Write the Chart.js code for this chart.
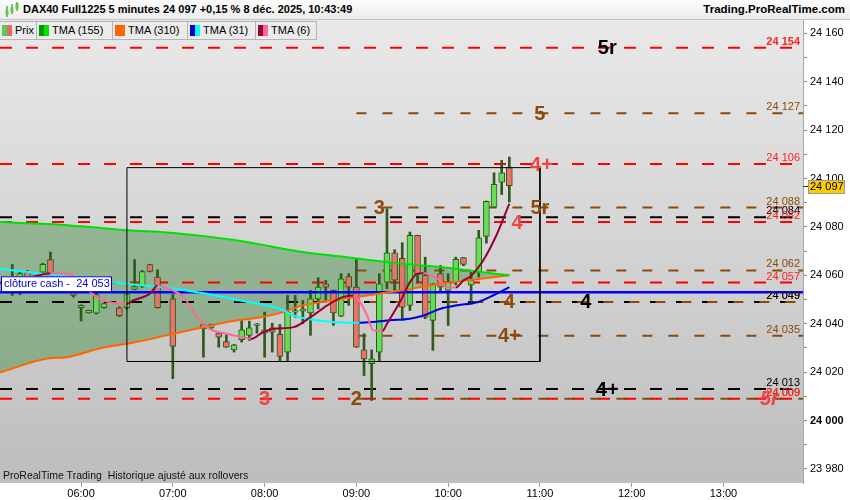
<!DOCTYPE html>
<html lang="fr">
<head>
<meta charset="utf-8">
<title>DAX40 Full1225 5 minutes</title>
<script src="https://cdn.jsdelivr.net/npm/chart.js@4.4.1/dist/chart.umd.min.js"></script>
<style>
  html, body { margin: 0; padding: 0; background: #fff; }
  #wrap { position: relative; width: 850px; height: 500px; overflow: hidden; font-family: "Liberation Sans", Arial, sans-serif; }
  #chart { position: absolute; left: 0; top: 0; }
  #head { position: absolute; left: 0; top: 0; width: 850px; height: 20px; box-sizing: border-box;
          background: linear-gradient(#fcfcfc, #ececec); border-bottom: 1px solid #c4c4c4; }
  #head .title { position: absolute; left: 23px; top: 3px; font-size: 11px; font-weight: bold; white-space: nowrap; }
  #head .site { position: absolute; right: 5px; top: 3px; font-size: 11.5px; font-weight: bold; }
  #head svg { position: absolute; left: 4px; top: 2px; }
  .tab { position: absolute; top: 21px; height: 19px; box-sizing: border-box; background: #ebebeb;
         border: 1px solid #b4b4b4; border-left: none; font-size: 11px; line-height: 17px; white-space: nowrap; }
  .tab i { position: absolute; top: 3px; width: 5px; height: 11px; }
  .tab span { position: absolute; left: 15px; top: 0; }
  #foot { position: absolute; left: 3px; top: 469px; font-size: 10.5px; color: #111; white-space: pre; }
</style>
</head>
<body>
<div id="wrap">
  <canvas id="chart" width="850" height="500"></canvas>
  <div id="head">
    <svg width="16" height="16" viewBox="0 0 16 16">
      <line x1="3" y1="4" x2="3" y2="15" stroke="#2e6b1e"/><rect x="1.5" y="8" width="3" height="5" fill="#5ccc44"/>
      <line x1="8" y1="2" x2="8" y2="12" stroke="#2e6b1e"/><rect x="6.5" y="5" width="3" height="5" fill="#5ccc44"/>
      <line x1="13" y1="0" x2="13" y2="9" stroke="#2e6b1e"/><rect x="11.5" y="1" width="3" height="6" fill="#5ccc44"/>
    </svg>
    <div class="title">DAX40 Full1225 5 minutes 24 097 +0,15 % 8 déc. 2025, 10:43:49</div>
    <div class="site">Trading.ProRealTime.com</div>
  </div>
  <div id="tabs"></div>
  <div id="foot">ProRealTime Trading  Historique ajusté aux rollovers</div>
</div>
<script>
// 5 minute bars, time = minutes since midnight
const barTime  = [315, 320, 325, 335, 340, 355, 360, 365, 370, 375, 385, 390, 395, 400, 405, 410, 420,
                  440, 445, 450, 455, 460, 465, 470, 475, 480, 485, 490, 495, 500, 505, 510, 515, 520,
                  525, 530, 535, 540, 545, 550, 555, 560, 565, 570, 575, 580, 585, 590, 595, 600, 605,
                  610, 615, 620, 625, 630, 635, 640];
const barOpen  = [24056, 24054, 24061.2, 24061.3, 24066.5, 24055, 24046.6, 24044.5, 24044.4, 24046.6, 24046.6, 24046.6, 24054.2, 24055.4, 24064.4, 24059.3, 24050.3,
                  24037.9, 24038.3, 24036.1, 24032.6, 24029.2, 24033.4, 24035.2, 24039.3, 24037.5, 24038.3, 24035.6, 24028.3, 24044.8, 24045.2, 24044.5, 24050.3, 24056.5,
                  24053.8, 24043.1, 24059.5, 24055.1, 24029.2, 24023.5, 24028.3, 24057.2, 24069.3, 24067, 24047.6, 24076.5, 24060, 24041.4, 24060.7, 24053.8, 24057.2,
                  24067.3, 24056, 24061.3, 24076.1, 24088.2, 24098.5, 24104.5];
const barHigh  = [24064.5, 24062, 24062, 24065, 24069.6, 24057, 24047.8, 24045.6, 24054, 24048.6, 24047, 24053, 24066.5, 24062, 24064.6, 24062.3, 24052.1,
                  24039.9, 24039.8, 24036.3, 24035.4, 24031.5, 24041.4, 24041.1, 24040.1, 24044.8, 24040.2, 24039.7, 24051.7, 24051.7, 24049.6, 24053.8, 24059, 24057.9,
                  24053.9, 24060.7, 24060.7, 24066.9, 24035.9, 24029.2, 24060.7, 24087.5, 24070.6, 24073.5, 24077.9, 24076.6, 24067.5, 24056.6, 24064.1, 24060.7, 24067.5,
                  24067.4, 24061.3, 24078.6, 24090.7, 24102.4, 24107.5, 24108.9];
const barLow   = [24051.7, 24052, 24053, 24061, 24055, 24051, 24041.1, 24044.4, 24044, 24046.4, 24043, 24046, 24054, 24055, 24061.4, 24046.5, 24017.3,
                  24026.2, 24038, 24030.3, 24030.2, 24028.3, 24032.4, 24033.1, 24036.1, 24026.2, 24028.3, 24024.5, 24024.5, 24042.7, 24040, 24035.2, 24046.2, 24048.9,
                  24039.3, 24042.9, 24047.6, 24030.2, 24018.6, 24008.3, 24024.5, 24054.5, 24053.8, 24042.1, 24045.5, 24057.2, 24042.1, 24029, 24053.1, 24039.3, 24056,
                  24064, 24048.9, 24059.3, 24073.3, 24088, 24093.4, 24090.3];
const barClose = [24058, 24060.7, 24055, 24064.5, 24056.8, 24051.7, 24047.6, 24045.5, 24052, 24048.3, 24043.3, 24052.4, 24055.4, 24061.6, 24061.6, 24046.6, 24030.6,
                  24039.7, 24039.7, 24034.5, 24030.3, 24031.3, 24037.5, 24038.3, 24040, 24036.1, 24036.5, 24026.5, 24044.8, 24045.4, 24046.2, 24050.3, 24055.1, 24055.1,
                  24044.5, 24058.6, 24055.1, 24030.3, 24025.5, 24025.5, 24056.5, 24069.3, 24058, 24046.9, 24076.5, 24060.7, 24042.7, 24056.5, 24055.1, 24057.2, 24066.6,
                  24064.5, 24058, 24075.5, 24090.6, 24097.6, 24102.4, 24097];

// moving averages
const slowTime = [307, 338, 351, 374, 390, 416, 442, 459, 477, 490, 505, 540, 568, 595, 616, 640];
const tma155   = [24082.0, 24081.2, 24080.7, 24079.5, 24078.6, 24077.7, 24076.1, 24074.7, 24072.8, 24071.2, 24069.6, 24067.0, 24064.9, 24063.4, 24061.8, 24060.0];
const tma310   = [24019.9, 24025.6, 24026.2, 24030.1, 24031.7, 24035.2, 24038.9, 24041.1, 24042.7, 24044.4, 24047.6, 24051.0, 24053.6, 24056.5, 24058.2, 24060.0];
const tma31Time = [307, 335, 390, 416, 442, 464, 490, 499, 521, 542, 551, 562, 575, 584, 595, 606, 619, 627, 640];
const tma31     = [24062.7, 24060.7, 24056.5, 24054.9, 24052.4, 24049.6, 24046.2, 24043.4, 24040.9, 24040.4, 24040.7, 24041.4, 24042.1, 24043.4, 24046.2, 24047.6, 24048.9, 24051.0, 24055.1];
const tma6Time = [307, 329, 340, 351, 370, 379, 390, 394, 405, 410, 414, 427, 436, 444, 455, 469, 471, 479, 486, 499, 510,
                  521, 531, 538, 547, 551, 557, 560, 569, 575, 580, 584, 593, 599, 605, 610, 614, 619, 623, 632, 640];
const tma6     = [24056.7, 24059.5, 24060.9, 24060.8, 24051.0, 24048.9, 24048.3, 24049.6, 24052.4, 24055.8, 24055.1, 24051.0, 24042.7, 24037.9, 24035.9, 24034.0, 24033.7, 24036.5, 24037.9, 24038.6, 24042.7,
                  24047.6, 24051.0, 24051.7, 24043.4, 24037.2, 24037.0, 24040.0, 24049.6, 24057.2, 24060.7, 24060.9, 24058.6, 24055.1, 24055.0, 24057.9, 24059.3, 24062.7, 24066.2, 24077.2, 24089.6];

// horizontal levels
const levelPrice = [24127, 24088, 24062, 24049, 24035, 24009, 24154, 24106, 24084, 24082, 24057, 24049, 24013, 24009];
const levelKind  = ['brown', 'brown', 'brown', 'brown', 'brown', 'brown', 'red', 'red', 'black', 'red', 'red', 'black', 'black', 'red'];
const cashClose = 24053;
const rangeTime  = [390, 660];
const rangePrice = [24024.4, 24104.5];

// level tags
const tagText  = ['5r', '5', '4+', '3', '5r', '4', '4', '4', '4+', '4+', '3', '2', '5r'];
const tagTime  = [704, 660, 661, 555, 660, 645, 640, 690, 640, 704, 480, 540, 810];
const tagPrice = [24154, 24127, 24106, 24088, 24088, 24082, 24049, 24049, 24035, 24013, 24009, 24009, 24009];
const tagKind  = ['black', 'brown', 'red', 'brown', 'brown', 'red', 'brown', 'black', 'brown', 'black', 'red', 'brown', 'red'];

const hourTicks = [360, 420, 480, 540, 600, 660, 720, 780];
const priceTicks = [];
for (let v = 23980; v <= 24160; v += 10) priceTicks.push(v);
const lastPrice = 24097;

const FONT = '"Liberation Sans", Arial, sans-serif';
const lineColor = { red: '#ff0000', brown: '#8b4a0c', black: '#000000' };
const textColor = { red: '#ff2222', brown: '#8b4a0c', black: '#000000' };
const tagColor  = { red: '#ee4444', brown: '#8b4a0c', black: '#000000' };

// legend tabs
const tabs = [
  [0, 37, '#55cc55', '#e06a6a', 'Prix'],
  [37, 76, '#009a00', '#00e600', 'TMA (155)'],
  [113, 75, '#ff6600', '#ff6600', 'TMA (310)'],
  [188, 68, '#0000c8', '#00ffff', 'TMA (31)'],
  [256, 61, '#990033', '#ff6699', 'TMA (6)']
];
const tabBox = document.getElementById('tabs');
tabs.forEach(([left, w, c1, c2, label]) => {
  const d = document.createElement('div');
  d.className = 'tab';
  d.style.left = left + 'px';
  d.style.width = w + 'px';
  d.innerHTML = '<i style="left:2px;background:' + c1 + '"></i><i style="left:7px;background:' + c2 + '"></i><span>' + label + '</span>';
  tabBox.appendChild(d);
});

function fmt(v) {
  const s = String(Math.round(v));
  return s.slice(0, s.length - 3) + ' ' + s.slice(-3);
}
function hhmm(v) {
  const h = Math.floor(v / 60), m = v % 60;
  return String(h).padStart(2, '0') + ':' + String(m).padStart(2, '0');
}
function pts(xs, ys) {
  return xs.map((t, i) => ({ x: t, y: ys[i] }));
}

const upDown = (rise, fall) => c => (c.p1.parsed.y >= c.p0.parsed.y ? rise : fall);

const datasets = [
  { type: 'line', data: pts(slowTime, tma155), borderColor: '#00e000', borderWidth: 2, pointRadius: 0,
    cubicInterpolationMode: 'monotone', fill: { target: 1 }, backgroundColor: 'rgba(0,110,0,0.30)', order: 3 },
  { type: 'line', data: pts(slowTime, tma310), borderColor: '#ff6600', borderWidth: 2, pointRadius: 0,
    cubicInterpolationMode: 'monotone', fill: false, order: 4 },
  { type: 'line', data: pts(tma31Time, tma31), borderColor: '#00ffff', borderWidth: 2, pointRadius: 0,
    cubicInterpolationMode: 'monotone', fill: false, segment: { borderColor: upDown('#0000dd', '#00ffff') }, order: 2 },
  { type: 'line', data: pts(tma6Time, tma6), borderColor: '#ff6699', borderWidth: 2, pointRadius: 0,
    cubicInterpolationMode: 'monotone', fill: false, segment: { borderColor: upDown('#990033', '#ff6699') }, order: 1 },
  { type: 'line', data: [
      { x: rangeTime[0], y: rangePrice[1] }, { x: rangeTime[1], y: rangePrice[1] },
      { x: rangeTime[1], y: rangePrice[0] }, { x: rangeTime[0], y: rangePrice[0] },
      { x: rangeTime[0], y: rangePrice[1] }],
    borderColor: '#000', borderWidth: 1, pointRadius: 0, tension: 0, fill: false, order: 0 },
  { type: 'line', data: [{ x: 307, y: cashClose }, { x: 832, y: cashClose }], borderColor: '#0000ff',
    borderWidth: 2.5, pointRadius: 0, fill: false, order: 5 },
  { type: 'bar', data: barTime.map((t, i) => ({ x: t, y: [barOpen[i], barClose[i]] })),
    backgroundColor: barTime.map((t, i) => (barClose[i] >= barOpen[i] ? '#66dd55' : '#e8736a')),
    borderColor: '#2e5a1c', borderWidth: 1, borderSkipped: false, barThickness: 6, grouped: false, order: 6 },
  { type: 'bar', data: barTime.map((t, i) => ({ x: t, y: [barLow[i], barHigh[i]] })),
    backgroundColor: '#2e5a1c', borderWidth: 0, barThickness: 2, grouped: false, order: 7 }
];
levelPrice.forEach((p, i) => {
  const k = levelKind[i];
  datasets.push({
    type: 'line',
    data: [{ x: k === 'brown' ? 540 : 307, y: p }, { x: 832, y: p }],
    borderColor: lineColor[k], borderWidth: 2,
    borderDash: k === 'brown' ? [10, 16] : [12, 14],
    borderDashOffset: k === 'brown' && p === 24049 ? 13 : 0,
    pointRadius: 0, fill: false, order: 8
  });
});

const background = {
  id: 'background',
  beforeDraw(chart) {
    const { ctx, chartArea: a } = chart;
    ctx.save();
    ctx.fillStyle = '#ffffff';
    ctx.fillRect(0, 0, chart.width, chart.height);
    const g = ctx.createLinearGradient(0, a.top, 0, a.bottom);
    g.addColorStop(0, '#e9e9e9');
    g.addColorStop(1, '#bdbdbd');
    ctx.fillStyle = g;
    ctx.fillRect(a.left, a.top, a.right - a.left, a.bottom - a.top);
    ctx.restore();
  }
};

const annotations = {
  id: 'annotations',
  afterDatasetsDraw(chart) {
    const { ctx, scales: { x, y }, chartArea: a } = chart;
    ctx.save();
    ctx.beginPath();
    ctx.rect(a.left, a.top, a.right - a.left, a.bottom - a.top);
    ctx.clip();

    // level values at the right edge
    ctx.textAlign = 'right';
    ctx.textBaseline = 'alphabetic';
    levelPrice.forEach((p, i) => {
      ctx.font = (p === 24154 ? 'bold ' : '') + '11px ' + FONT;
      ctx.fillStyle = textColor[levelKind[i]];
      ctx.fillText(fmt(p), a.right - 3, y.getPixelForValue(p) - 3);
    });

    // level tags
    ctx.textAlign = 'center';
    ctx.textBaseline = 'middle';
    tagText.forEach((t, i) => {
      ctx.font = (tagTime[i] > 800 ? 'italic ' : '') + 'bold 20px ' + FONT;
      ctx.fillStyle = tagColor[tagKind[i]];
      ctx.fillText(t, x.getPixelForValue(tagTime[i]), y.getPixelForValue(tagPrice[i]) + 1);
    });

    // cash close label
    const cy = y.getPixelForValue(cashClose);
    ctx.fillStyle = '#ffffff';
    ctx.fillRect(a.left + 1, cy - 16, 110, 15);
    ctx.strokeStyle = '#0000dd';
    ctx.lineWidth = 1;
    ctx.strokeRect(a.left + 1.5, cy - 15.5, 110, 15);
    ctx.fillStyle = '#0000dd';
    ctx.textAlign = 'left';
    ctx.font = '11px ' + FONT;
    ctx.fillText('clôture cash -  ' + fmt(cashClose), a.left + 4, cy - 8);
    ctx.restore();
  },
  afterDraw(chart) {
    const { ctx, scales: { y }, chartArea: a } = chart;
    const py = Math.round(y.getPixelForValue(lastPrice));
    ctx.save();
    ctx.fillStyle = '#ffcc00';
    ctx.fillRect(a.right + 5, py - 6, 36, 13);
    ctx.strokeStyle = '#9a9a9a';
    ctx.strokeRect(a.right + 5.5, py - 5.5, 36, 13);
    ctx.strokeStyle = '#333';
    ctx.beginPath();
    ctx.moveTo(a.right, py + 0.5);
    ctx.lineTo(a.right + 5, py + 0.5);
    ctx.stroke();
    ctx.fillStyle = '#000';
    ctx.font = '11px ' + FONT;
    ctx.textAlign = 'left';
    ctx.textBaseline = 'middle';
    ctx.fillText(fmt(lastPrice), a.right + 7, py + 1);
    ctx.restore();
  }
};

Chart.defaults.font.family = FONT;
Chart.defaults.font.size = 11;
Chart.defaults.color = '#000';

new Chart(document.getElementById('chart'), {
  type: 'line',
  data: { datasets: datasets },
  options: {
    responsive: false,
    animation: false,
    events: [],
    layout: { padding: { top: 20, left: 0, right: 0, bottom: 0 } },
    plugins: {
      legend: { display: false },
      tooltip: { enabled: false },
      filler: { drawTime: 'beforeDatasetsDraw' }
    },
    scales: {
      x: {
        type: 'linear', min: 307, max: 832, offset: false,
        grid: { drawOnChartArea: false, offset: false, tickLength: 4, color: '#999' },
        border: { display: false },
        afterBuildTicks: s => { s.ticks = hourTicks.map(v => ({ value: v })); },
        afterFit: s => { s.height = 17; },
        ticks: { autoSkip: false, maxRotation: 0, padding: 0, color: '#000', callback: v => hhmm(v) }
      },
      y: {
        type: 'linear', position: 'right', min: 23974.2, max: 24165.5,
        grid: { drawOnChartArea: false, offset: false, tickLength: 4, color: '#888' },
        border: { display: true, color: '#a8a8a8' },
        afterBuildTicks: s => { s.ticks = priceTicks.map(v => ({ value: v })); },
        afterFit: s => { s.width = 47; },
        ticks: {
          autoSkip: false, padding: 3, color: '#000',
          font: c => ({ family: FONT, size: 11, weight: c.tick && c.tick.value === 24000 ? 'bold' : 'normal' }),
          callback: v => (v % 20 === 0 ? fmt(v) : '')
        }
      }
    }
  },
  plugins: [background, annotations]
});
</script>
</body>
</html>
